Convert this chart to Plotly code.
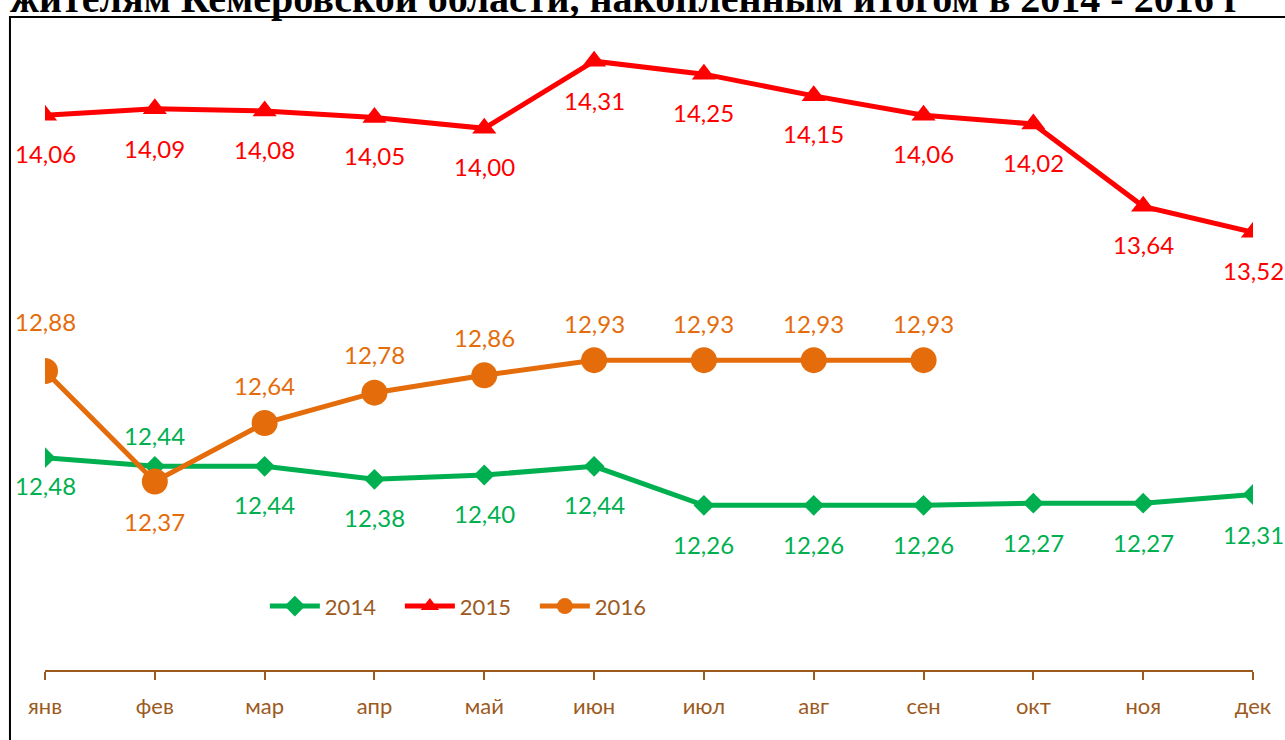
import plotly.graph_objects as go

months = ["янв", "фев", "мар", "апр", "май", "июн", "июл", "авг", "сен", "окт", "ноя", "дек"]
v2014 = [12.48, 12.44, 12.44, 12.38, 12.40, 12.44, 12.26, 12.26, 12.26, 12.27, 12.27, 12.31]
v2015 = [14.06, 14.09, 14.08, 14.05, 14.00, 14.31, 14.25, 14.15, 14.06, 14.02, 13.64, 13.52]
v2016 = [12.88, 12.37, 12.64, 12.78, 12.86, 12.93, 12.93, 12.93, 12.93]
# label offsets in px (positive = below the point)
off2014 = [28, -31, 38, 38, 38, 38, 39, 39, 39, 39, 39, 40]
off2015 = [38, 40, 38, 38, 38, 39, 38, 38, 38, 38, 38, 38]
off2016 = [-50, 40, -38, -38, -38, -37, -37, -37, -37]

GREEN = "#00B050"
RED = "#FF0000"
ORANGE = "#E46C0A"
BROWN = "#9C5A1E"
FONT = "Lato"

x = list(range(12))
fig = go.Figure()
fig.add_trace(go.Scatter(x=x, y=v2014, name="2014", mode="lines+markers",
                         line=dict(color=GREEN, width=5),
                         marker=dict(symbol="diamond", size=16, color=GREEN)))
fig.add_trace(go.Scatter(x=x, y=v2015, name="2015", mode="lines+markers",
                         line=dict(color=RED, width=5),
                         marker=dict(symbol="triangle-up", size=21, color=RED)))
fig.add_trace(go.Scatter(x=x[:len(v2016)], y=v2016, name="2016", mode="lines+markers",
                         line=dict(color=ORANGE, width=5),
                         marker=dict(symbol="circle", size=26, color=ORANGE)))

def fmt(v):
    return f"{v:.2f}".replace(".", ",")

ann = []
for vals, offs, col in [(v2014, off2014, GREEN), (v2015, off2015, RED), (v2016, off2016, ORANGE)]:
    for i, (v, o) in enumerate(zip(vals, offs)):
        ann.append(dict(x=i, y=v, xref="x", yref="y", text=fmt(v), showarrow=False,
                        yshift=-o, font=dict(family=FONT, size=24, color=col)))

ann.append(dict(x=-0.031, y=1.0, xref="paper", yref="paper", xanchor="left", yanchor="bottom",
                yshift=-3, showarrow=False,
                text="<b>жителям Кемеровской области, накопленным итогом в 2014 - 2016 г</b>",
                font=dict(family="Liberation Serif", size=40, color="black")))

fig.update_layout(
    width=1285, height=740,
    margin=dict(l=45, r=32, t=20, b=70),
    paper_bgcolor="white", plot_bgcolor="white",
    showlegend=True,
    legend=dict(orientation="h", x=0.182, xanchor="left", y=0.098, yanchor="middle",
                font=dict(family=FONT, size=22, color=BROWN), itemwidth=50,
                entrywidth=70, entrywidthmode="pixels",
                bgcolor="rgba(0,0,0,0)"),
    xaxis=dict(range=[0, 11], tickmode="array", tickvals=x, ticktext=months,
               showgrid=False, zeroline=False, showline=True, linecolor=BROWN, linewidth=2,
               ticks="outside", ticklen=8, tickcolor=BROWN, tickwidth=1.5,
               ticklabelstandoff=8,
               tickfont=dict(family=FONT, size=22, color=BROWN)),
    yaxis=dict(range=[11.5, 14.5], visible=False),
    annotations=ann,
    shapes=[dict(type="rect", xref="paper", yref="paper", x0=-0.029, x1=1.05, y0=-0.2, y1=1.0046,
                 line=dict(color="black", width=2), fillcolor="rgba(0,0,0,0)", layer="below")],
)

fig.write_html("out.html", config={"displayModeBar": False},
               post_script="document.body.style.margin='0';document.body.style.overflow='hidden';")
